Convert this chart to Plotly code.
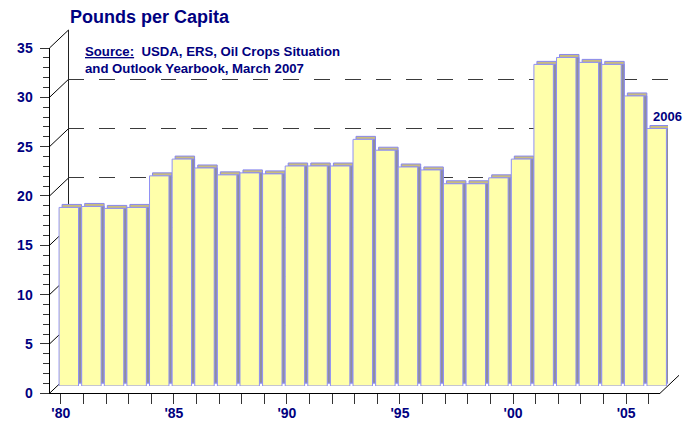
import plotly.graph_objects as go

# ---------------- data ----------------
years = list(range(1980, 2007))
values = [18.1, 18.2, 18.0, 18.1, 21.3, 23.0, 22.1, 21.4, 21.6, 21.5,
          22.3, 22.3, 22.3, 25.0, 23.9, 22.2, 21.9, 20.5, 20.5, 21.1,
          23.0, 32.6, 33.3, 32.8, 32.6, 29.4, 26.1]
tick_labels = ["'80", "'85", "'90", "'95", "'00", "'05"]
label_years = [1980, 1985, 1990, 1995, 2000, 2005]
y_major = [0, 5, 10, 15, 20, 25, 30, 35]

# ---------------- geometry (window pixels) ----------------
WIN_W, WIN_H = 696, 421
BODY = 8                       # page body margin: figure starts at (8, 8)
W, H = WIN_W - BODY, WIN_H - BODY
NAVY = "#000080"
FONT = "Arial, Liberation Sans, sans-serif"

fx0, fx1 = 49.5, 660.0         # front plane x extent
fy0, fy1 = 393.3, 48.0         # front plane y at 0 and 35
back_dx, back_dy = 19.0, 18.0  # depth offset of back wall
bar_dx, bar_dy = 8.0, 7.3      # depth offset of bar front faces

def px(x):
    return (x - BODY) / W

def py(y):
    return 1 - (y - BODY) / H

YMAX = 35
XR = [1979.5, 2006.5]
k = (fy0 - fy1) / YMAX
unit_x = (fx1 - fx0) / (XR[1] - XR[0])

def fy(v, dy=0.0):
    return fy0 - v * k - dy

# extrusion of bars
ext_px = 3.0
ext_x = ext_px / unit_x
ext_y = ext_px / k
bw = 0.86

ticktext = [tick_labels[label_years.index(y)] if y in label_years else "" for y in years]

fig = go.Figure()

# cap (top face)
fig.add_trace(go.Bar(
    x=years, y=values, base=[ext_y] * len(values),
    width=bw, offset=-bw / 2 + ext_x,
    marker=dict(color="#C9BC7E", line=dict(color="#8888EE", width=1)),
    xaxis="x3", yaxis="y3", hoverinfo="skip", showlegend=False))
# side face
fig.add_trace(go.Bar(
    x=years, y=[v - ext_y for v in values], base=[ext_y] * len(values),
    width=bw, offset=-bw / 2 + ext_x,
    marker=dict(color="#8E8E9E", line=dict(color="#8888EE", width=1)),
    xaxis="x3", yaxis="y3", hoverinfo="skip", showlegend=False))
# front face
fig.add_trace(go.Bar(
    x=years, y=values,
    width=bw, offset=-bw / 2,
    marker=dict(color="#FFFFAA", line=dict(color="#9090F4", width=1)),
    xaxis="x3", yaxis="y3", showlegend=False,
    hovertemplate="%{x}: %{y}<extra></extra>"))

# invisible traces to anchor front axes & back axes
fig.add_trace(go.Scatter(x=[XR[0]], y=[0], mode="markers", marker=dict(opacity=0),
                         xaxis="x", yaxis="y", hoverinfo="skip", showlegend=False))
fig.add_trace(go.Scatter(x=[XR[0]], y=[0], mode="markers", marker=dict(opacity=0),
                         xaxis="x2", yaxis="y2", hoverinfo="skip", showlegend=False))

tickfont = dict(family=FONT, size=14, color=NAVY, weight="bold")

fig.update_layout(
    template="none",
    width=W, height=H,
    margin=dict(l=0, r=0, t=0, b=0, pad=0, autoexpand=False),
    paper_bgcolor="white", plot_bgcolor="rgba(0,0,0,0)",
    barmode="overlay",
    showlegend=False,
    # front axes
    xaxis=dict(domain=[px(fx0), px(fx1)], range=XR, anchor="y", automargin=False,
               showline=True, linecolor="black", linewidth=1,
               ticks="outside", ticklen=10, tickcolor="#333333", tickwidth=1,
               tickvals=years, ticktext=ticktext, tickfont=tickfont,
               ticklabelstandoff=-3,
               showgrid=False, zeroline=False, fixedrange=True),
    yaxis=dict(domain=[py(fy0), py(fy1)], range=[0, YMAX], anchor="x", automargin=False,
               showline=True, linecolor="black", linewidth=1,
               ticks="outside", ticklen=9, tickcolor="#333333", tickwidth=1,
               tickvals=y_major, tickfont=tickfont, ticklabelstandoff=4,
               minor=dict(ticks="outside", ticklen=6, dtick=1, tickcolor="#333333",
                          showgrid=False),
               showgrid=False, zeroline=False, fixedrange=True),
    # back wall
    xaxis2=dict(domain=[px(fx0 + back_dx), px(fx1 + back_dx)], range=XR, anchor="y2",
                automargin=False, visible=False, fixedrange=True),
    yaxis2=dict(domain=[py(fy0 - back_dy), py(fy1 - back_dy)], range=[0, YMAX], anchor="x2",
                automargin=False,
                showline=True, linecolor="#222222", linewidth=1,
                showticklabels=False, ticks="", tickvals=y_major,
                showgrid=True, gridcolor="#3a3a3a", gridwidth=1, griddash="15.7px,15px",
                zeroline=False, fixedrange=True),
    # bar plane
    xaxis3=dict(domain=[px(fx0 + bar_dx), px(fx1 + bar_dx)], range=XR, anchor="y3",
                automargin=False, visible=False, fixedrange=True),
    yaxis3=dict(domain=[py(fy0 - bar_dy), py(fy1 - bar_dy)], range=[0, YMAX], anchor="x3",
                automargin=False, visible=False, fixedrange=True),
)

# left wall diagonals and floor edges
shapes = []
for v in y_major:
    shapes.append(dict(type="line", xref="paper", yref="paper", layer="below",
                       x0=px(fx0), y0=py(fy(v)), x1=px(fx0 + back_dx), y1=py(fy(v, back_dy)),
                       line=dict(color="black", width=1)))
shapes.append(dict(type="line", xref="paper", yref="paper", layer="below",
                   x0=px(fx1), y0=py(fy(0)), x1=px(fx1 + back_dx), y1=py(fy(0, back_dy)),
                   line=dict(color="black", width=1)))
fig.update_layout(shapes=shapes)

fig.add_annotation(text="Pounds per Capita", xref="paper", yref="paper",
                   x=px(68), y=py(17), xanchor="left", yanchor="middle", showarrow=False,
                   font=dict(family=FONT, size=18, color=NAVY, weight="bold"))
fig.add_annotation(text="<u>Source:</u>\u00a0\u00a0USDA, ERS, Oil Crops Situation<br>and Outlook Yearbook, March 2007",
                   xref="paper", yref="paper", x=px(83), y=py(42), xanchor="left", yanchor="top",
                   align="left", showarrow=False,
                   font=dict(family=FONT, size=13.2, color=NAVY, weight="bold"))
fig.add_annotation(text=str(years[-1]), xref="x3", yref="y3",
                   x=years[-1], y=values[-1], xanchor="center", yanchor="bottom",
                   xshift=11, yshift=3, showarrow=False,
                   font=dict(family=FONT, size=13, color=NAVY, weight="bold"))

fig.write_html("out.html")
